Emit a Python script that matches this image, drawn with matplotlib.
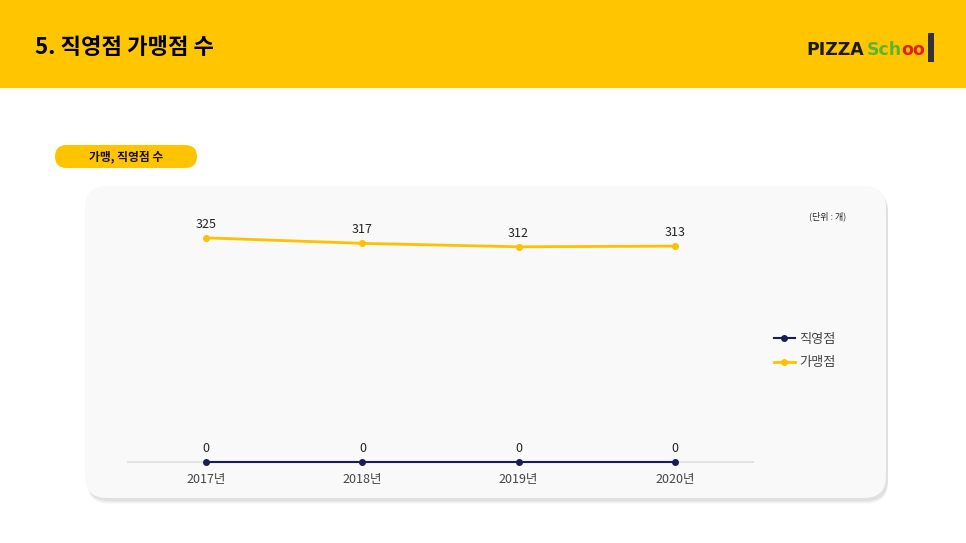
import matplotlib
matplotlib.use("Agg")
import matplotlib.pyplot as plt
from matplotlib.patches import FancyBboxPatch, Rectangle

plt.rcParams["font.family"] = ["Noto Sans CJK KR", "DejaVu Sans"]

years = ["2017년", "2018년", "2019년", "2020년"]
direct = [0, 0, 0, 0]
franchise = [325, 317, 312, 313]

NAVY = "#1b1b5c"
YELLOW = "#ffc000"
HEADER = "#ffc600"

W, H = 966, 543
fig = plt.figure(figsize=(W / 100, H / 100), dpi=100)
fig.patch.set_facecolor("white")

# background layer in pixel coordinates
bg = fig.add_axes([0, 0, 1, 1])
bg.set_xlim(0, W)
bg.set_ylim(H, 0)
bg.axis("off")

bg.add_patch(Rectangle((0, 0), W, 88, color=HEADER, lw=0))
bg.text(35, 47, "5. 직영점 가맹점 수", fontsize=16, fontweight="bold",
        color="black", va="center", ha="left")

# logo, each part chained to the end of the previous one
t1 = bg.text(806, 50, "PIZZA", fontsize=12.5, fontweight="bold", color="#1a1a1a",
             va="center", ha="left", family="DejaVu Sans")
t2 = bg.annotate("Sch", xy=(1, 0.5), xycoords=t1, xytext=(2, 0),
                 textcoords="offset points", fontsize=12.5, fontweight="bold",
                 color="#5cb531", va="center", ha="left", family="DejaVu Sans")
t3 = bg.annotate("oo", xy=(1, 0.5), xycoords=t2, xytext=(0, 0),
                 textcoords="offset points", fontsize=12.5, fontweight="bold",
                 color="#e02020", va="center", ha="left", family="DejaVu Sans")
bg.add_patch(Rectangle((928, 33), 6, 29, color="#333333", lw=0))

# section pill
bg.add_patch(FancyBboxPatch((55, 145), 142, 23,
                            boxstyle="round,pad=0,rounding_size=11.5",
                            fc="#ffc400", ec="none"))
bg.text(126, 156.5, "가맹, 직영점 수", fontsize=8.5, fontweight="bold",
        ha="center", va="center", color="#111111")

# card with soft shadow
for i, a in enumerate([0.05, 0.07, 0.09, 0.12]):
    off = 6 - i
    bg.add_patch(FancyBboxPatch((85 + 2, 186 + off), 801, 312,
                                boxstyle="round,pad=0,rounding_size=22",
                                fc="#9a9a9a", ec="none", alpha=a))
bg.add_patch(FancyBboxPatch((85, 186), 801, 312,
                            boxstyle="round,pad=0,rounding_size=22",
                            fc="#f9f9f9", ec="none"))

bg.text(828, 216, "(단위 : 개)", fontsize=6.5, ha="center", va="center",
        color="#222222")

# chart axes
ax = fig.add_axes([128 / W, (H - 462) / H, (753 - 128) / W, (462 - 227.5) / H])
ax.patch.set_visible(False)
x = range(len(years))
ax.plot(x, franchise, color=YELLOW, lw=2, marker="o", ms=4, clip_on=False,
        label="가맹점", zorder=3)
ax.plot(x, direct, color=NAVY, lw=1.5, marker="o", ms=4, clip_on=False,
        label="직영점", zorder=4)
for xi, v in zip(x, franchise):
    ax.annotate(str(v), (xi, v), xytext=(0, 5), textcoords="offset points",
                ha="center", va="bottom", fontsize=9, color="#222222")
for xi, v in zip(x, direct):
    ax.annotate(str(v), (xi, v), xytext=(0, 5), textcoords="offset points",
                ha="center", va="bottom", fontsize=9, color="#222222")

ax.set_xlim(-0.5, 3.5)
ax.set_ylim(0, 340)
ax.set_xticks(list(x))
ax.set_xticklabels(years, fontsize=9, color="#444444")
ax.tick_params(axis="x", length=0, pad=8)
ax.set_yticks([])
for s in ["top", "right", "left"]:
    ax.spines[s].set_visible(False)
ax.spines["bottom"].set_color("#e3e3e3")
ax.spines["bottom"].set_linewidth(1.5)

handles, labels = ax.get_legend_handles_labels()
fig.legend(handles[::-1], labels[::-1], loc="center left",
           bbox_to_anchor=(762 / W, 1 - 351 / H), frameon=False,
           fontsize=9.5, handlelength=1.6, handletextpad=0.3,
           labelspacing=0.8, labelcolor="#444444")

fig.savefig("out.png", dpi=100, facecolor=fig.get_facecolor())
